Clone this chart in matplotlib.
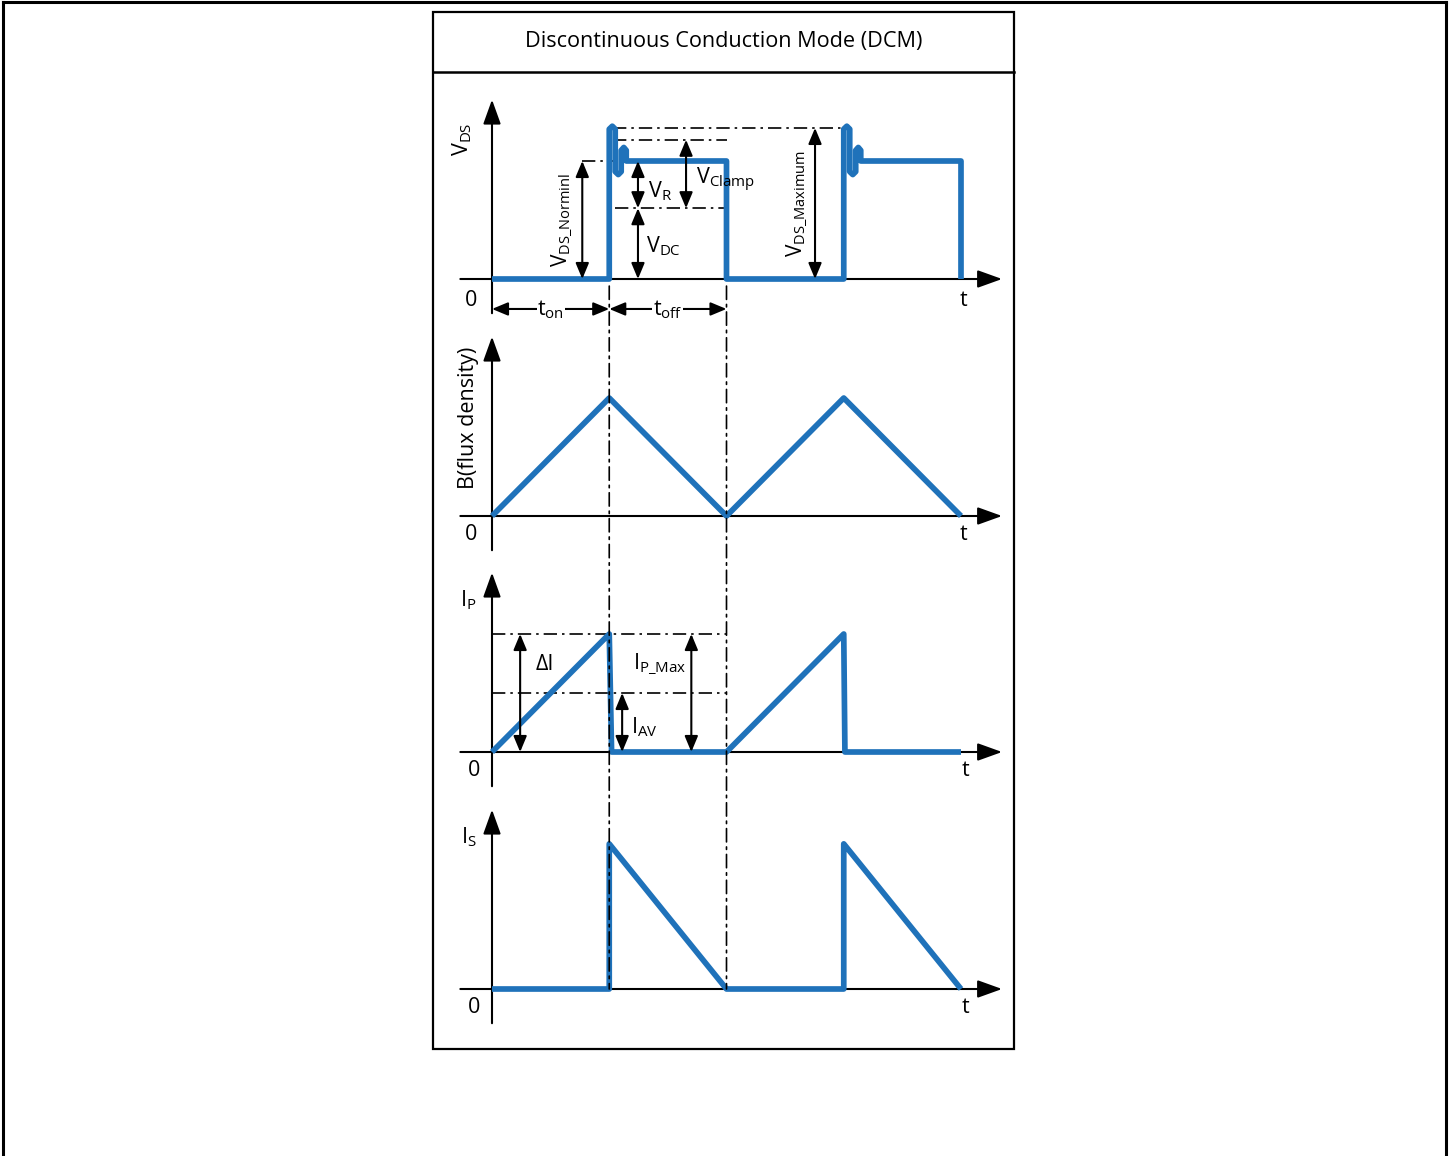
import matplotlib
matplotlib.use('Agg')
import matplotlib.pyplot as plt
from matplotlib.lines import Line2D
from matplotlib.patches import Rectangle, ConnectionPatch

W, H = 1450, 1156
plt.rcParams['font.family'] = ['Open Sans', 'DejaVu Sans']
plt.rcParams['mathtext.fontset'] = 'custom'
plt.rcParams['mathtext.rm'] = 'Open Sans'
plt.rcParams['mathtext.it'] = 'Open Sans:italic'
plt.rcParams['mathtext.bf'] = 'Open Sans:bold'

# ---------------- data ----------------
title = 'Discontinuous Conduction Mode (DCM)'
t_on = 1.0
t_off = 1.0
period = 2.0
t_end = 4.0

# V_DS levels (normalised to nominal)
v_nom = 1.0
v_max = 1.28
v_clamp_low = 1.18
v_dc = 0.60
# ringing spike at turn-off (time offsets and values)
spike_dt = [0.0, 0.0, 0.026, 0.051, 0.051, 0.077, 0.102, 0.102, 0.124, 0.145, 0.145]
spike_v = [0.0, 1.27, 1.295, 1.27, 0.91, 0.885, 0.91, 1.09, 1.115, 1.09, 1.0]

# B (flux density)
b_t = [0.0, 1.0, 2.0, 3.0, 4.0]
b_v = [0.0, 1.0, 0.0, 1.0, 0.0]

# primary current
ip_t = [0.0, 1.0, 1.02, 2.0, 3.0, 3.01, 4.0]
ip_v = [0.0, 1.0, 0.0, 0.0, 1.0, 0.0, 0.0]
ip_av = 0.5

# secondary current
is_t = [0.0, 1.0, 1.0, 2.0, 3.0, 3.0, 4.0]
is_v = [0.0, 0.0, 1.23, 0.0, 0.0, 1.23, 0.0]

BLUE = '#1f72ba'

# ---------------- layout helpers ----------------
fig = plt.figure(figsize=(W / 100, H / 100), dpi=100)

T0 = 492.0
PXT = 117.25
SY = 118.0
BOX_L, BOX_R = 433, 1014


def panel(baseline):
    top = baseline - 200
    bot = baseline + 45
    ax = fig.add_axes([BOX_L / W, 1 - bot / H, (BOX_R - BOX_L) / W, (bot - top) / H])
    ax.set_xlim((BOX_L - T0) / PXT, (BOX_R - T0) / PXT)
    ax.set_ylim(-45 / SY, 200 / SY)
    ax.axis('off')
    ax.patch.set_visible(False)
    return ax


def axes_arrows(ax):
    kw = dict(arrowstyle='-|>,head_length=0.75,head_width=0.27', mutation_scale=20,
              lw=1.5, color='black', shrinkA=0, shrinkB=0)
    ax.annotate('', xy=(0, 1.52), xytext=(0, -0.29), arrowprops=kw, annotation_clip=False)
    ax.annotate('', xy=(4.35, 0), xytext=(-0.27, 0), arrowprops=kw, annotation_clip=False)


def dim(ax, x0, y0, x1, y1):
    ax.annotate('', xy=(x1, y1), xytext=(x0, y0),
                arrowprops=dict(arrowstyle='<|-|>,head_length=0.6,head_width=0.25',
                                mutation_scale=16, lw=1.5, color='black',
                                shrinkA=0, shrinkB=0),
                annotation_clip=False)


DD = (0, (8, 3, 1.5, 3))


def ddline(ax, xs, ys):
    ax.plot(xs, ys, color='black', lw=1.2, linestyle=DD, zorder=2, clip_on=False)


def wave(ax, t, v):
    ax.plot(t, v, color=BLUE, lw=4.1, solid_joinstyle='round', solid_capstyle='butt',
            zorder=3, clip_on=False)


FSL = 15.5

# ---------------- frames ----------------
fig.add_artist(Line2D([3 / W, 3 / W], [0, 1 - 2 / H], color='black', lw=2.2))
fig.add_artist(Line2D([3 / W, 1446 / W], [1 - 2 / H, 1 - 2 / H], color='black', lw=2.2))
fig.add_artist(Line2D([1446 / W, 1446 / W], [0, 1 - 2 / H], color='black', lw=2.2))
fig.add_artist(Rectangle((BOX_L / W, 1 - 1049 / H), (BOX_R - BOX_L) / W, (1049 - 12) / H,
                         fill=False, ec='black', lw=1.6))
fig.add_artist(Line2D([BOX_L / W, BOX_R / W], [1 - 72 / H, 1 - 72 / H], color='black', lw=1.8))
fig.text((BOX_L + BOX_R) / 2 / W, 1 - 42 / H, title, ha='center', va='center', fontsize=15.6)

# ---------------- V_DS panel ----------------
ax1 = panel(279)
axes_arrows(ax1)
vt = [0.0, t_on]
vv = [0.0, 0.0]
vt += [t_on + d for d in spike_dt] + [t_on + t_off, t_on + t_off, t_on + period]
vv += spike_v + [v_nom, 0.0, 0.0]
vt += [t_on + period + d for d in spike_dt] + [t_end, t_end]
vv += spike_v + [v_nom, 0.0]
wave(ax1, vt, vv)

ddline(ax1, [0.77, t_on + 0.05], [v_nom, v_nom])
ddline(ax1, [t_on + 0.05, t_on + t_off], [v_dc, v_dc])
ddline(ax1, [t_on + 0.03, t_on + t_off], [v_clamp_low, v_clamp_low])
ddline(ax1, [t_on + 0.03, t_on + period], [v_max, v_max])

dim(ax1, 0.77, 0, 0.77, v_nom)
dim(ax1, 1.245, v_dc, 1.245, v_nom)
dim(ax1, 1.245, 0, 1.245, v_dc)
dim(ax1, 1.655, v_dc, 1.655, v_clamp_low)
dim(ax1, 2.755, 0, 2.755, v_max)
dim(ax1, 0, -0.254, t_on, -0.254)
dim(ax1, t_on, -0.254, t_on + t_off, -0.254)

ax1.text(-0.25, 1.18, r'$\mathrm{V_{DS}}$', rotation=90, ha='center', va='center', fontsize=FSL)
ax1.text(0.60, 0.50, r'$\mathrm{V_{DS\_Norminl}}$', rotation=90, ha='center', va='center', fontsize=15)
ax1.text(2.60, 0.64, r'$\mathrm{V_{DS\_Maximum}}$', rotation=90, ha='center', va='center', fontsize=15)
ax1.text(1.43, 0.74, r'$\mathrm{V_{R}}$', ha='center', va='center', fontsize=FSL)
ax1.text(1.46, 0.28, r'$\mathrm{V_{DC}}$', ha='center', va='center', fontsize=FSL)
ax1.text(1.99, 0.84, r'$\mathrm{V_{Clamp}}$', ha='center', va='center', fontsize=FSL)
ax1.text(0.5, -0.262, r'$\mathrm{t_{on}}$', ha='center', va='center', fontsize=FSL,
         bbox=dict(fc='white', ec='none', pad=0.5))
ax1.text(1.5, -0.262, r'$\mathrm{t_{off}}$', ha='center', va='center', fontsize=FSL,
         bbox=dict(fc='white', ec='none', pad=0.5))
ax1.text(-0.18, -0.18, '0', ha='center', va='center', fontsize=FSL)
ax1.text(4.02, -0.18, 't', ha='center', va='center', fontsize=FSL)

# ---------------- B panel ----------------
ax2 = panel(516)
axes_arrows(ax2)
wave(ax2, b_t, b_v)
ax2.text(-0.20, 0.83, 'B(flux density)', rotation=90, ha='center', va='center', fontsize=FSL)
ax2.text(-0.18, -0.16, '0', ha='center', va='center', fontsize=FSL)
ax2.text(4.02, -0.16, 't', ha='center', va='center', fontsize=FSL)

# ---------------- I_P panel ----------------
ax3 = panel(752)
axes_arrows(ax3)
wave(ax3, ip_t, ip_v)
ddline(ax3, [0, t_on + t_off], [1.0, 1.0])
ddline(ax3, [0, t_on + t_off], [ip_av, ip_av])
dim(ax3, 0.24, 0, 0.24, 1.0)
dim(ax3, 1.70, 0, 1.70, 1.0)
dim(ax3, 1.11, 0, 1.11, ip_av)
ax3.text(-0.20, 1.29, r'$\mathrm{I_{P}}$', ha='center', va='center', fontsize=FSL)
ax3.text(0.45, 0.74, 'ΔI', ha='center', va='center', fontsize=FSL)
ax3.text(1.43, 0.74, r'$\mathrm{I_{P\_Max}}$', ha='center', va='center', fontsize=FSL)
ax3.text(1.30, 0.21, r'$\mathrm{I_{AV}}$', ha='center', va='center', fontsize=FSL)
ax3.text(-0.15, -0.16, '0', ha='center', va='center', fontsize=FSL)
ax3.text(4.04, -0.16, 't', ha='center', va='center', fontsize=FSL)

# ---------------- I_S panel ----------------
ax4 = panel(989)
axes_arrows(ax4)
wave(ax4, is_t, is_v)
ax4.text(-0.20, 1.29, r'$\mathrm{I_{S}}$', ha='center', va='center', fontsize=FSL)
ax4.text(-0.15, -0.16, '0', ha='center', va='center', fontsize=FSL)
ax4.text(4.04, -0.16, 't', ha='center', va='center', fontsize=FSL)

# ---------------- vertical switching guides ----------------
for tx in (t_on, t_on + t_off):
    cp = ConnectionPatch(xyA=(tx, -0.06), coordsA=ax1.transData,
                         xyB=(tx, 0.0), coordsB=ax4.transData,
                         color='black', lw=1.2, linestyle=DD, zorder=5)
    fig.add_artist(cp)

fig.savefig('out.png', dpi=100, facecolor='white')
